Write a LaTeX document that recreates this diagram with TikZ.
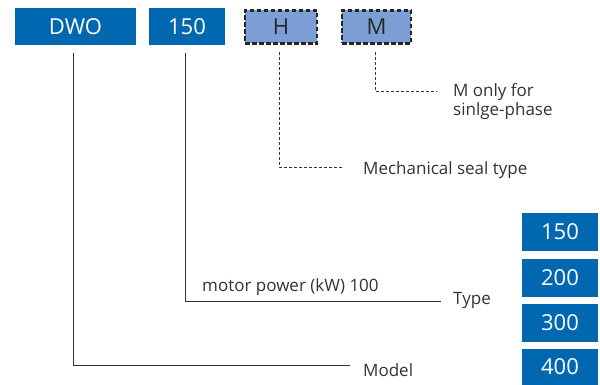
\documentclass[tikz,border=0pt]{standalone}
\usepackage{fontspec}
\setmainfont{Open Sans}
\definecolor{dblue}{HTML}{0067B1}
\definecolor{lblue}{HTML}{7B9ED4}
\definecolor{txt}{HTML}{333333}
\begin{document}
\begin{tikzpicture}[x=1pt,y=-1pt,
  solidbox/.style={fill=dblue,text=white,font=\fontsize{22}{24}\selectfont,inner sep=0pt},
  dashbox/.style={fill=lblue,draw=black!85,line width=2.2pt,dash pattern=on 4.5pt off 2.5pt,text=black!85,font=\fontsize{22}{24}\selectfont,inner sep=0pt},
  lbl/.style={text=txt,font=\fontsize{17}{19}\selectfont,inner sep=0pt,anchor=west,align=left},
  conn/.style={draw=black!80,line width=0.9pt},
  dconn/.style={draw=black!80,line width=0.9pt,dash pattern=on 3pt off 2pt}]
\useasboundingbox (0,0) rectangle (600,385);
\node[solidbox,minimum width=121pt,minimum height=37pt] (dwo) at (75.5,26.5) {DWO};
\node[solidbox,minimum width=76pt,minimum height=37pt] (p150) at (187,26.5) {150};
\node[dashbox,minimum width=72pt,minimum height=33pt] (h) at (281,27) {H};
\node[dashbox,minimum width=69pt,minimum height=33pt] (m) at (376.5,27) {M};
\node[solidbox,minimum width=76pt,minimum height=38pt] (t150) at (560,232) {150};
\node[solidbox,minimum width=76pt,minimum height=38pt] (t200) at (560,278) {200};
\node[solidbox,minimum width=76pt,minimum height=38pt] (t300) at (560,323) {300};
\node[solidbox,minimum width=76pt,minimum height=36pt] (t400) at (560,367) {400};
\node[lbl] (model) at (363,370) {Model};
\node[lbl] (type) at (453,300) {Type};
\node[lbl] (mp) at (202,287) {motor power (kW) 100};
\node[lbl] (seal) at (363,170) {Mechanical seal type};
\node[lbl] (monly) at (453,102) {M only for\\sinlge-phase};
\coordinate (c1) at (73,365);
\coordinate (c2) at (185,301);
\coordinate (c3) at (279,167);
\coordinate (c4) at (375,91);
\draw[conn] (73,53) -- (c1) -- (350,365);
\draw[conn] (185,53) -- (c2) -- (441,301);
\draw[dconn] (279,52) -- (c3) -- (343,167);
\draw[dconn] (375,52) -- (c4) -- (437,91);
\end{tikzpicture}
\end{document}
